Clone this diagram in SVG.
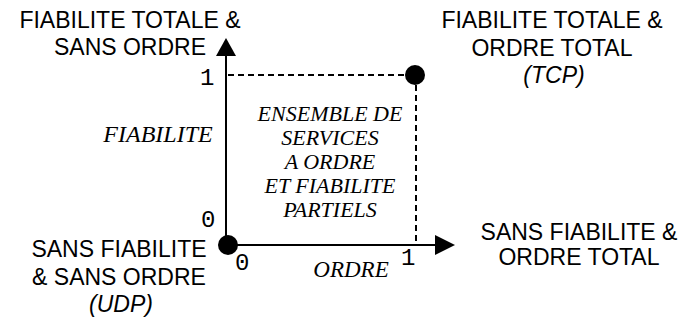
<svg xmlns="http://www.w3.org/2000/svg" width="686" height="320" viewBox="0 0 686 320">
<style>
.lbl{font-family:"Liberation Sans",Arial,sans-serif;font-size:23px;fill:#000;text-anchor:middle}
.it{font-style:italic}
.ser{font-family:"Liberation Serif","Times New Roman",serif;font-style:italic;fill:#000;text-anchor:middle}
.num{font-family:"Liberation Mono","Courier New",monospace;font-size:24px;fill:#000}
.axis{stroke:#000;stroke-width:2;fill:none}
.dash{stroke:#000;stroke-width:2;fill:none;stroke-dasharray:6,4}
</style>
<rect width="686" height="320" fill="#fff"/>
<g id="connectors">
<line class="axis" x1="226" y1="245" x2="226" y2="54"/>
<polygon points="226,38 216,56 236,56" fill="#000"/>
<line class="axis" x1="226" y1="245" x2="437" y2="245"/>
<polygon points="455,245 435,235 435,255" fill="#000"/>
<line class="dash" x1="228" y1="75" x2="415" y2="75"/>
<line class="dash" x1="416" y1="75" x2="416" y2="245"/>
</g>
<g id="origin">
<circle cx="228" cy="245" r="10" fill="#000"/>
</g>
<g id="tcp-point">
<circle cx="415" cy="75" r="10" fill="#000"/>
</g>
<g id="top-left">
<text class="lbl" x="130" y="28">FIABILITE TOTALE &amp;</text>
<text class="lbl" x="130" y="55">SANS ORDRE</text>
</g>
<g id="top-right">
<text class="lbl" x="552" y="28">FIABILITE TOTALE &amp;</text>
<text class="lbl" x="552" y="56">ORDRE TOTAL</text>
<text class="lbl it" x="554" y="83">(TCP)</text>
</g>
<g id="bottom-left">
<text class="lbl" x="119" y="257">SANS FIABILITE</text>
<text class="lbl" x="119" y="285">&amp; SANS ORDRE</text>
<text class="lbl it" x="121" y="312">(UDP)</text>
</g>
<g id="bottom-right">
<text class="lbl" x="579" y="240">SANS FIABILITE &amp;</text>
<text class="lbl" x="579" y="265">ORDRE TOTAL</text>
</g>
<g id="axis-labels">
<text class="ser" x="158" y="142" font-size="24">FIABILITE</text>
<text class="ser" x="351" y="277" font-size="23">ORDRE</text>
</g>
<g id="region">
<text class="ser" x="330" y="121" font-size="22">ENSEMBLE DE</text>
<text class="ser" x="330" y="145" font-size="22">SERVICES</text>
<text class="ser" x="330" y="169" font-size="22">A ORDRE</text>
<text class="ser" x="330" y="193" font-size="22">ET FIABILITE</text>
<text class="ser" x="330" y="217" font-size="22">PARTIELS</text>
</g>
<g id="ticks">
<text class="num" x="200" y="85">1</text>
<text class="num" x="201" y="227">0</text>
<text class="num" x="235" y="270">0</text>
<text class="num" x="401" y="265">1</text>
</g>
</svg>
